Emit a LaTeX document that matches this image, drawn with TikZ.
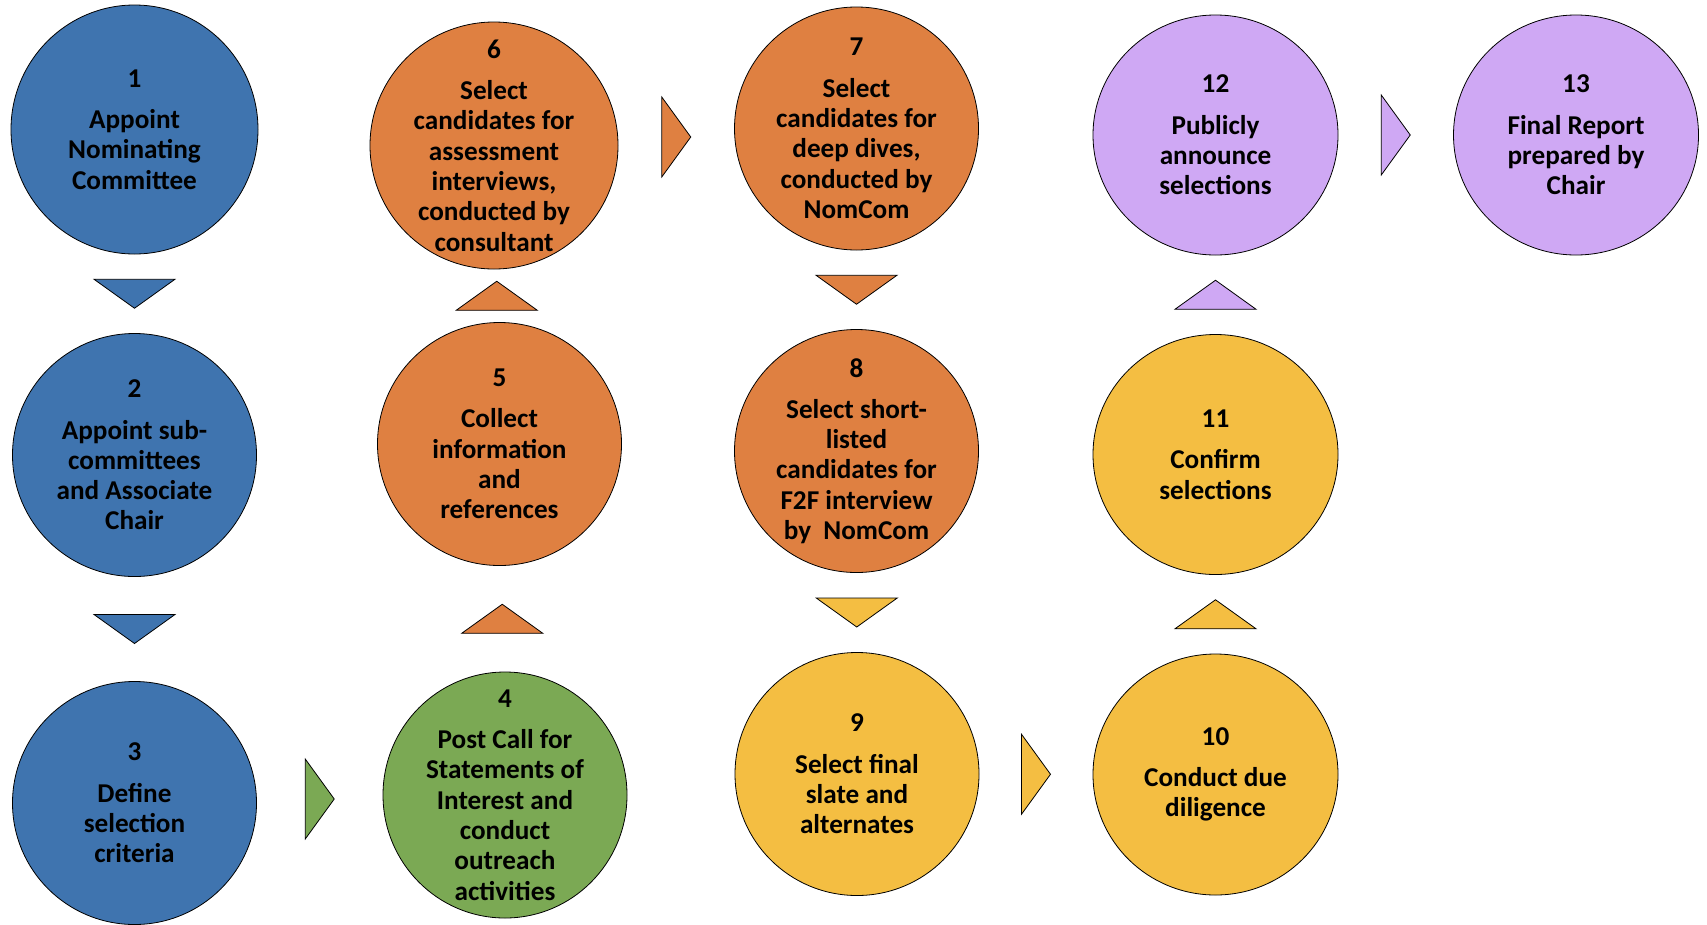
\documentclass[tikz,border=0pt]{standalone}
\usepackage{fontspec}
\setmainfont{Carlito}
\usetikzlibrary{shapes.geometric,calc}
\definecolor{cblue}{HTML}{3F74AF}
\definecolor{corange}{HTML}{DF8041}
\definecolor{cgreen}{HTML}{7BA954}
\definecolor{cyellow}{HTML}{F4BE42}
\definecolor{cpurple}{HTML}{CFA8F4}
\begin{document}
\begin{tikzpicture}[x=1pt,y=-1pt,
  circ/.style={ellipse, draw=black, line width=0.8pt, inner sep=0pt, minimum width=244pt, minimum height=243pt},
  txt/.style={align=center, font=\fontsize{27.2}{30.3}\selectfont\bfseries, text=black, inner sep=0pt},
  tri/.style={draw=black, line width=0.8pt, line join=miter},
  pics/tdown/.style={code={\draw[tri,fill=#1] (-40.5,-14.5) -- (40.5,-14.5) -- (0,14.5) -- cycle;}},
  pics/tup/.style={code={\draw[tri,fill=#1] (-40.5,14.5) -- (40.5,14.5) -- (0,-14.5) -- cycle;}},
  pics/tright/.style={code={\draw[tri,fill=#1] (-14.5,-40) -- (-14.5,40) -- (14.5,0) -- cycle;}}
]
\useasboundingbox (0,0) rectangle (1707,924);

% circles
\node[circ, fill=cblue, minimum width=247pt, minimum height=249pt] (n1) at (134.5,129.5) {};
\node[circ, fill=cblue] (n2) at (134.5,455) {};
\node[circ, fill=cblue] (n3) at (134.5,803) {};
\node[circ, fill=cgreen, minimum height=246pt] (n4) at (505,795) {};
\node[circ, fill=corange] (n5) at (499.5,444) {};
\node[circ, fill=corange, minimum width=248pt, minimum height=247pt] (n6) at (494,145.5) {};
\node[circ, fill=corange] (n7) at (856.5,128.5) {};
\node[circ, fill=corange] (n8) at (856.5,451) {};
\node[circ, fill=cyellow] (n9) at (857,774) {};
\node[circ, fill=cyellow, minimum width=245pt, minimum height=241pt] (n10) at (1215.5,774.5) {};
\node[circ, fill=cyellow, minimum width=245pt, minimum height=240pt] (n11) at (1215.5,454.5) {};
\node[circ, fill=cpurple, minimum width=245pt, minimum height=240pt] (n12) at (1215.5,135) {};
\node[circ, fill=cpurple, minimum width=245pt, minimum height=240pt] (n13) at (1576,135) {};

% texts
\node[txt] (l1) at (n1) {1\\[11pt]Appoint\\Nominating\\Committee};
\node[txt] (l2) at (n2) {2\\[11pt]Appoint sub-\\committees\\and Associate\\Chair};
\node[txt] (l3) at (n3) {3\\[11pt]Define\\selection\\criteria};
\node[txt] (l4) at (n4) {4\\[11pt]Post Call for\\Statements of\\Interest and\\conduct\\outreach\\activities};
\node[txt] (l5) at (n5) {5\\[11pt]Collect\\information\\and\\references};
\node[txt] (l6) at (n6) {6\\[11pt]Select\\candidates for\\assessment\\interviews,\\conducted by\\consultant};
\node[txt] (l7) at (n7) {7\\[11pt]Select\\candidates for\\deep dives,\\conducted by\\NomCom};
\node[txt] (l8) at (n8) {8\\[11pt]Select short-\\listed\\candidates for\\F2F interview\\by\ \ NomCom};
\node[txt] (l9) at (n9) {9\\[11pt]Select final\\slate and\\alternates};
\node[txt] (l10) at (n10) {10\\[11pt]Conduct due\\diligence};
\node[txt] (l11) at (n11) {11\\[11pt]Confirm\\selections};
\node[txt] (l12) at (n12) {12\\[11pt]Publicly\\announce\\selections};
\node[txt] (l13) at (n13) {13\\[11pt]Final Report\\prepared by\\Chair};

% triangle connectors
\pic at ($(n1.south)!0.5!(n2.north)$) {tdown=cblue};
\pic at ($(n2.south)!0.5!(n3.north)$) {tdown=cblue};
\pic at ($(n3.east)!0.5!(n4.west)$) {tright=cgreen};
\pic at ($(n4.north)!0.5!(n5.south)$) {tup=corange};
\pic at ($(n5.north)!0.5!(n6.south)$) {tup=corange};
\pic at ($(n6.east)!0.5!(n7.west)$) {tright=corange};
\pic at ($(n7.south)!0.5!(n8.north)$) {tdown=corange};
\pic at ($(n8.south)!0.5!(n9.north)$) {tdown=cyellow};
\pic at ($(n9.east)!0.5!(n10.west)$) {tright=cyellow};
\pic at ($(n10.north)!0.5!(n11.south)$) {tup=cyellow};
\pic at ($(n11.north)!0.5!(n12.south)$) {tup=cpurple};
\pic at ($(n12.east)!0.5!(n13.west)$) {tright=cpurple};
\end{tikzpicture}
\end{document}
